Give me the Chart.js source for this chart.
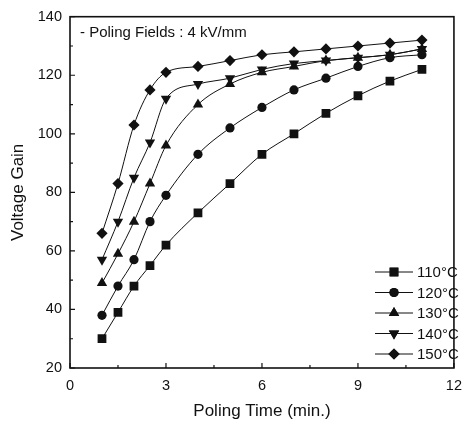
<!DOCTYPE html>
<html>
<head>
  <title>Voltage Gain vs Poling Time</title>
  <script src="https://cdn.jsdelivr.net/npm/chart.js@4.4.1/dist/chart.umd.min.js"></script>
  <style>
    html, body { margin: 0; padding: 0; background: #fff; }
    #wrap { width: 471px; height: 426px; }
  </style>
</head>
<body>
  <div id="wrap"><canvas id="myChart" width="471" height="426"></canvas></div>

  <script>
    // poling time (min.)
    var times = [1, 1.5, 2, 2.5, 3, 4, 5, 6, 7, 8, 9, 10, 11];

    // voltage gain for each poling temperature
    var gain110 = [30, 39, 48, 55, 62, 73, 83, 93, 100, 107, 113, 118, 122];
    var gain120 = [38, 48, 57, 70, 79, 93, 102, 109, 115, 119, 123, 126, 127];
    var gain130 = [49, 59, 70, 83, 96, 110, 117, 121, 123, 125, 126, 127, 129];
    var gain140 = [57, 70, 85, 97, 112, 117, 119, 122, 124, 125, 126, 127, 129];
    var gain150 = [66, 83, 103, 115, 121, 123, 125, 127, 128, 129, 130, 131, 132];

    var seriesLabels = ['110\u00b0C', '120\u00b0C', '130\u00b0C', '140\u00b0C', '150\u00b0C'];
    var xTicks = [0, 3, 6, 9, 12];
    var yTicks = [20, 40, 60, 80, 100, 120, 140];

    var FONT = 'Liberation Sans, Arial, sans-serif';
    var INK = '#111';

    function toPoints(ys) {
      return times.map(function(t, i) { return { x: t, y: ys[i] }; });
    }

    function makeSet(label, ys, style, radius, rotation) {
      return {
        label: label,
        data: toPoints(ys),
        borderColor: INK,
        backgroundColor: INK,
        borderWidth: 1,
        pointStyle: style,
        pointRadius: radius,
        pointRotation: rotation || 0,
        pointBorderWidth: 0,
        pointBackgroundColor: INK,
        cubicInterpolationMode: 'monotone'
      };
    }

    // frame, inward ticks, note and legend
    var decor = {
      id: 'decor',
      afterDraw: function(chart) {
        var c = chart.ctx;
        var a = chart.chartArea;
        var xs = chart.scales.x, ys = chart.scales.y;
        c.save();
        c.strokeStyle = INK;
        c.lineWidth = 1.6;
        c.strokeRect(a.left, a.top, a.right - a.left, a.bottom - a.top);

        c.lineWidth = 1.2;
        c.beginPath();
        for (var v = 20; v <= 140; v += 10) {
          var py = ys.getPixelForValue(v);
          var len = (v % 20 === 0) ? 5 : 3;
          c.moveTo(a.left, py); c.lineTo(a.left + len, py);
        }
        for (var t = 0; t <= 12; t += 1.5) {
          var px = xs.getPixelForValue(t);
          var l2 = (t % 3 === 0) ? 5 : 3;
          c.moveTo(px, a.bottom); c.lineTo(px, a.bottom - l2);
        }
        c.stroke();

        c.fillStyle = INK;
        c.font = '15px ' + FONT;
        c.textBaseline = 'middle';
        c.textAlign = 'left';
        c.fillText('- Poling Fields : 4 kV/mm', a.left + 10, 33);

        // legend at lower right
        var lx = 375, ly = 272, step = 20.5;
        c.lineWidth = 1;
        chart.data.datasets.forEach(function(ds, i) {
          var y = ly + i * step;
          c.beginPath();
          c.moveTo(lx, y); c.lineTo(lx + 38, y);
          c.stroke();
          Chart.helpers.drawPoint(c, {
            pointStyle: ds.pointStyle,
            radius: ds.pointRadius,
            rotation: ds.pointRotation,
            borderWidth: 0
          }, lx + 19, y);
          c.fill();
          c.fillText(ds.label, lx + 42, y + 1);
        });
        c.restore();
      }
    };

    var ctx = document.getElementById('myChart').getContext('2d');
    var chart = new Chart(ctx, {
      type: 'line',
      data: {
        datasets: [
          makeSet(seriesLabels[0], gain110, 'rect', 6.2),
          makeSet(seriesLabels[1], gain120, 'circle', 4.6),
          makeSet(seriesLabels[2], gain130, 'triangle', 6),
          makeSet(seriesLabels[3], gain140, 'triangle', 6, 180),
          makeSet(seriesLabels[4], gain150, 'rectRot', 5.6)
        ]
      },
      options: {
        responsive: false,
        animation: false,
        layout: { padding: { top: 15, right: 8, left: 0, bottom: 0 } },
        plugins: {
          legend: { display: false },
          tooltip: { enabled: false }
        },
        scales: {
          x: {
            type: 'linear',
            min: 0, max: 12,
            afterBuildTicks: function(s) { s.ticks = xTicks.map(function(v) { return { value: v }; }); },
            afterFit: function(s) { s.height = 58; },
            grid: { display: false, drawTicks: false },
            border: { display: false },
            ticks: { color: INK, font: { family: FONT, size: 14.5 }, padding: 9, maxRotation: 0 },
            title: {
              display: true, text: 'Poling Time (min.)', color: INK,
              font: { family: FONT, size: 17 }, padding: { top: 0, bottom: 4 }
            }
          },
          y: {
            min: 20, max: 140,
            afterBuildTicks: function(s) { s.ticks = yTicks.map(function(v) { return { value: v }; }); },
            afterFit: function(s) { s.width = 70; },
            grid: { display: false, drawTicks: false },
            border: { display: false },
            ticks: { color: INK, font: { family: FONT, size: 14.5 }, padding: 8 },
            title: {
              display: true, text: 'Voltage Gain', color: INK,
              font: { family: FONT, size: 17 }, padding: { top: 8, bottom: 0 }
            }
          }
        }
      },
      plugins: [decor]
    });
  </script>
</body>
</html>
